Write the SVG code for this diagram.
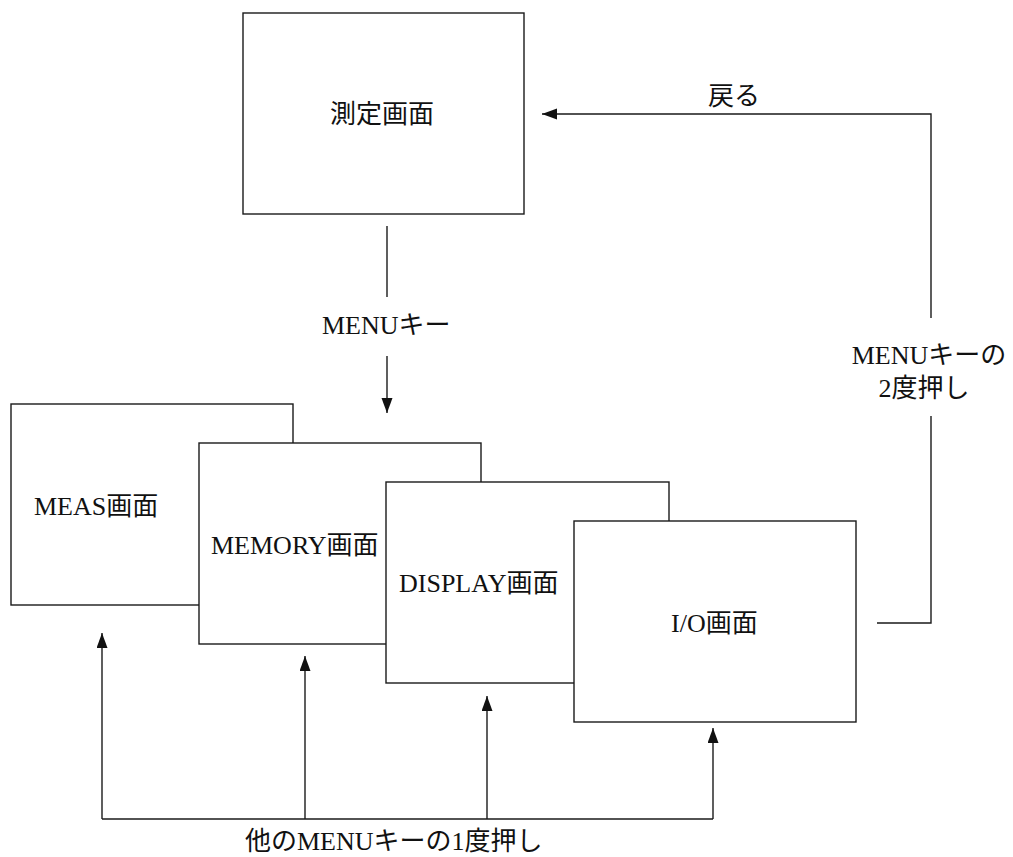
<svg xmlns="http://www.w3.org/2000/svg" width="1013" height="857" viewBox="0 0 1013 857">
<style>
.box{fill:#fff;stroke:#1a1a1a;stroke-width:1.4}
.ln{fill:none;stroke:#1a1a1a;stroke-width:1.4}
.t{font-family:"Liberation Serif","Noto Sans CJK JP",serif;font-size:26px;fill:#111}
</style>
<defs>
<marker id="arr" markerWidth="16" markerHeight="12" refX="15" refY="5.5" orient="auto" markerUnits="userSpaceOnUse">
<path d="M0,0 L15,5.5 L0,11 Z" fill="#111"/>
</marker>
</defs>
<rect width="1013" height="857" fill="#fff"/>
<g id="node-measure">
<rect class="box" x="243" y="13" width="281" height="201"/>
<text class="t" x="330" y="123">測定画面</text>
</g>
<g id="node-meas">
<rect class="box" x="11" y="404" width="282" height="201"/>
<text class="t" x="34" y="515">MEAS画面</text>
</g>
<g id="node-memory">
<rect class="box" x="199" y="443" width="282" height="201"/>
<text class="t" x="211" y="554">MEMORY画面</text>
</g>
<g id="node-display">
<rect class="box" x="386" y="482" width="283" height="201"/>
<text class="t" x="399" y="592">DISPLAY画面</text>
</g>
<g id="node-io">
<rect class="box" x="574" y="521" width="282" height="201"/>
<text class="t" x="671" y="632">I/O画面</text>
</g>
<g id="connectors">
<line class="ln" x1="387" y1="226" x2="387" y2="297"/>
<line class="ln" x1="387" y1="356" x2="387" y2="413" marker-end="url(#arr)"/>
<polyline class="ln" points="877,623 931,623 931,416"/>
<polyline class="ln" points="931,318 931,114 542,114" marker-end="url(#arr)"/>
<line class="ln" x1="102" y1="819" x2="713" y2="819"/>
<line class="ln" x1="102" y1="819" x2="102" y2="633" marker-end="url(#arr)"/>
<line class="ln" x1="305" y1="819" x2="305" y2="656" marker-end="url(#arr)"/>
<line class="ln" x1="487" y1="819" x2="487" y2="696" marker-end="url(#arr)"/>
<line class="ln" x1="713" y1="819" x2="713" y2="728" marker-end="url(#arr)"/>
<text class="t" x="322" y="334">MENUキー</text>
<text class="t" x="708" y="105">戻る</text>
<text class="t" x="929" y="364" text-anchor="middle">MENUキーの</text>
<text class="t" x="924" y="397" text-anchor="middle">2度押し</text>
<text class="t" x="245" y="850">他のMENUキーの1度押し</text>
</g>
</svg>
